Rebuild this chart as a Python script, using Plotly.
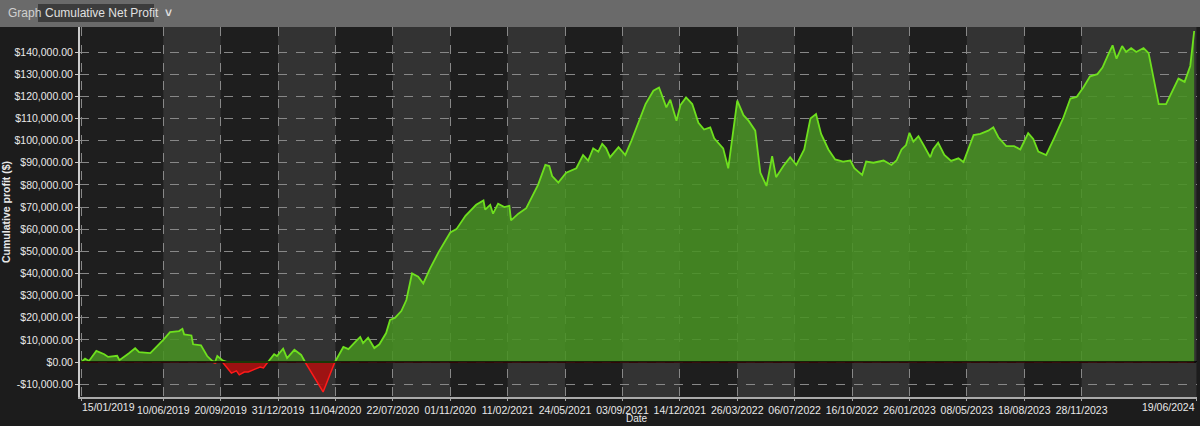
import plotly.graph_objects as go
import pandas as pd

dates = [
"2019-01-15","2019-01-22","2019-01-29","2019-02-11","2019-02-25","2019-03-04","2019-03-20","2019-03-24",
"2019-04-10","2019-04-21","2019-04-28","2019-05-18","2019-06-10","2019-06-22","2019-07-08","2019-07-14",
"2019-07-17","2019-07-30","2019-08-02","2019-08-16","2019-08-27","2019-09-05","2019-09-10","2019-09-14",
"2019-09-23","2019-10-02","2019-10-09","2019-10-18","2019-10-23","2019-11-01","2019-11-08","2019-11-20",
"2019-11-29","2019-12-05","2019-12-13","2019-12-24","2019-12-29","2020-01-09","2020-01-16","2020-01-29",
"2020-02-10","2020-02-17","2020-03-20","2020-04-10","2020-04-25","2020-05-04","2020-05-18","2020-05-25",
"2020-05-30","2020-06-08","2020-06-19","2020-06-28","2020-07-10","2020-07-17","2020-07-26","2020-08-06",
"2020-08-15","2020-08-25","2020-09-05","2020-09-14","2020-09-26","2020-10-11","2020-11-01","2020-11-12",
"2020-11-28","2020-12-17","2020-12-30","2021-01-02","2021-01-11","2021-01-16","2021-01-25","2021-02-05",
"2021-02-14","2021-02-17","2021-03-02","2021-03-16","2021-04-06","2021-04-19","2021-04-26","2021-05-01",
"2021-05-12","2021-05-26","2021-06-13","2021-06-25","2021-07-04","2021-07-13","2021-07-22","2021-07-29",
"2021-08-05","2021-08-12","2021-08-27","2021-09-08","2021-09-19","2021-10-01","2021-10-14","2021-10-28",
"2021-11-07","2021-11-20","2021-11-27","2021-12-08","2021-12-15","2021-12-25","2022-01-05","2022-01-16",
"2022-01-26","2022-02-06","2022-02-13","2022-03-01","2022-03-10","2022-03-26","2022-04-06","2022-04-15",
"2022-04-27","2022-05-06","2022-05-17","2022-05-27","2022-06-03","2022-06-16","2022-06-28","2022-07-09",
"2022-07-23","2022-08-03","2022-08-13","2022-08-22","2022-09-04","2022-09-16","2022-09-30","2022-10-13",
"2022-10-20","2022-10-27","2022-11-03","2022-11-10","2022-11-23","2022-12-11","2022-12-25","2023-01-03",
"2023-01-12","2023-01-20","2023-01-26","2023-02-02","2023-02-11","2023-02-20","2023-03-04","2023-03-09",
"2023-03-18","2023-03-29","2023-04-10","2023-04-23","2023-05-02","2023-05-20","2023-06-01","2023-06-15",
"2023-06-24","2023-07-03","2023-07-17","2023-07-31","2023-08-11","2023-08-25","2023-09-03","2023-09-12",
"2023-09-26","2023-10-10","2023-10-26","2023-11-08","2023-11-19","2023-12-01","2023-12-13","2023-12-26",
"2024-01-04","2024-01-14","2024-01-22","2024-01-29","2024-02-08","2024-02-15","2024-02-24","2024-03-04",
"2024-03-17","2024-03-26","2024-04-04","2024-04-13","2024-04-26","2024-05-04","2024-05-18","2024-05-29",
"2024-06-08","2024-06-15",
]
values = [
0,1500,500,5000,3500,2300,2800,800,
4000,6200,4500,4000,10000,13500,14000,15000,
12500,12000,8000,7500,2700,500,-500,2700,
800,-2700,-5000,-4000,-5800,-4500,-4500,-3200,
-2300,-2700,0,3500,2700,6000,1800,5500,
3200,0,-13500,0,6800,5800,9500,11300,
8500,11000,6300,8000,13100,19000,20000,23000,
28000,40000,38500,35500,42200,49500,58500,60000,
66000,71000,73000,68800,71000,67000,71500,70000,
70500,64000,67000,69500,80000,89000,88500,84000,
81000,85500,87500,93500,91000,96500,95000,98500,
96500,92500,97000,93500,100000,108000,116500,122500,
124000,115000,118500,109000,116000,119500,116500,108000,
105000,106000,101000,96500,87500,118000,111500,109000,
104500,85500,79500,93000,83500,88500,92500,89000,
96000,110000,112000,103000,96000,91500,90500,91000,
87500,86000,84500,90500,90000,91000,89000,91000,
96000,98000,103500,99500,102000,98000,92500,96000,
99000,93500,90800,92000,90300,102500,103000,104500,
106000,101500,97500,97500,96000,103400,100700,95000,
93500,101000,110000,119000,119700,124000,129000,130000,
133000,138700,143000,137000,142700,140000,141800,140000,
141800,139500,128000,116500,116500,120500,128000,126500,
133700,149500,
]

tick_dates = ["2019-01-15","2019-06-10","2019-09-20","2019-12-31","2020-04-11","2020-07-22",
              "2020-11-01","2021-02-11","2021-05-24","2021-09-03","2021-12-14","2022-03-26",
              "2022-07-06","2022-10-16","2023-01-26","2023-05-08","2023-08-18","2023-11-28","2024-06-19"]
tick_labels = [pd.Timestamp(d).strftime("%d/%m/%Y") for d in tick_dates]
y_ticks = list(range(-10000, 140001, 10000))
y_labels = [("-$" if v < 0 else "$") + f"{abs(v):,.2f}" for v in y_ticks]

pos = [max(v, 0) for v in values]
neg = [min(v, 0) for v in values]

fig = go.Figure()
fig.add_trace(go.Scatter(x=dates, y=neg, mode="lines", fill="tozeroy",
                         line=dict(color="#ff1a1a", width=1.5), fillcolor="rgba(170,15,15,0.9)",
                         hoverinfo="skip"))
fig.add_trace(go.Scatter(x=dates, y=pos, mode="lines", fill="tozeroy",
                         line=dict(color="#6ee01e", width=1.8), fillcolor="rgba(72,145,35,0.88)",
                         hoverinfo="skip"))

W = 1117.0
PH = 370.0
shapes = []
bands = [(1, 2), (3, 4), (5, 6), (7, 8), (9, 10), (11, 12), (13, 14), (15, 16), (17, 18)]
for a, b in bands:
    shapes.append(dict(type="rect", xref="x", yref="paper", x0=tick_dates[a], x1=tick_dates[b],
                       y0=0, y1=1, fillcolor="#333333", line_width=0, layer="below"))
shapes.append(dict(type="rect", xref="paper", yref="paper", x0=-80/W, x1=1+3/W,
                   y0=1, y1=1+27/PH, fillcolor="#6a6a6a", line_width=0))
shapes.append(dict(type="rect", xref="paper", yref="paper", x0=(38-80)/W, x1=(154-80)/W,
                   y0=1+5/PH, y1=1+23/PH, fillcolor="#3c3c3c", line_width=0))
shapes.append(dict(type="line", xref="paper", yref="y", x0=0, x1=1, y0=0, y1=0,
                   line=dict(color="#000000", width=1.5)))

shown_text = [""] + tick_labels[1:-1] + [""]
tickfont = dict(size=10.5, color="#e8e8e8")
fig.update_layout(
    width=1200, height=426, margin=dict(l=80, r=3, t=27, b=29),
    paper_bgcolor="#1c1c1c", plot_bgcolor="#1e1e1e", showlegend=False,
    font=dict(family="Liberation Sans, Arial", size=11, color="#e8e8e8"),
    shapes=shapes,
    annotations=[
        dict(text="Graph", xref="paper", yref="paper", x=(6-80)/W, y=1+14/PH,
             xanchor="left", yanchor="middle", showarrow=False, font=dict(size=12, color="#d0d0d0")),
        dict(text="Cumulative Net Profit  <b>˅</b>", xref="paper", yref="paper", x=(43-80)/W, y=1+14/PH,
             xanchor="left", yanchor="middle", showarrow=False, font=dict(size=12, color="#e0e0e0")),
        dict(text=tick_labels[0], xref="paper", yref="paper", x=0, y=-10/PH,
             xanchor="left", yanchor="middle", showarrow=False, font=tickfont),
        dict(text=tick_labels[-1], xref="paper", yref="paper", x=1, y=-10/PH,
             xanchor="right", yanchor="middle", showarrow=False, font=tickfont),
        dict(text="Date", xref="paper", yref="paper", x=(637-80)/W, y=-29/PH,
             xanchor="center", yanchor="bottom", showarrow=False, font=dict(size=10, color="#e8e8e8")),
    ],
    xaxis=dict(type="date", range=["2019-01-13", "2024-06-20"], tickvals=tick_dates, ticktext=shown_text,
               tickangle=0, automargin=False, showgrid=True, gridcolor="#888888", griddash="dash", gridwidth=1,
               showline=True, linecolor="#aaaaaa", linewidth=2, ticks="outside", ticklen=2,
               tickcolor="#aaaaaa", tickfont=tickfont, zeroline=False),
    yaxis=dict(range=[-15800, 151300], tickvals=y_ticks, ticktext=y_labels, automargin=False,
               showgrid=True, gridcolor="#888888", griddash="dash", gridwidth=1,
               showline=True, linecolor="#cccccc", linewidth=2, ticks="outside", ticklen=3,
               tickcolor="#cccccc", tickfont=tickfont, zeroline=False,
               title=dict(text="<b>Cumulative profit ($)</b>", font=dict(size=10.5), standoff=4)),
)
fig.write_html("out.html", config={"displayModeBar": False})
with open("out.html", encoding="utf-8") as f:
    html = f.read()
html = html.replace("<head>", "<head><style>html,body{margin:0;padding:0;background:#1c1c1c;overflow:hidden}</style>", 1)
with open("out.html", "w", encoding="utf-8") as f:
    f.write(html)
